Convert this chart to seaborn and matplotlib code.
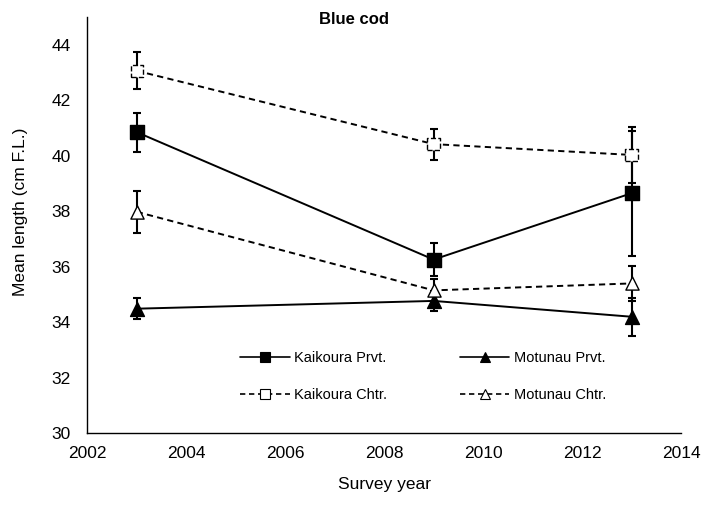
import matplotlib
matplotlib.use("Agg")
import matplotlib.pyplot as plt
from matplotlib.lines import Line2D
import numpy as np
import pandas as pd
import seaborn as sns

# Survey years and mean fork length (cm) with error-bar half widths
years = [2003, 2009, 2013]
kaikoura_prvt = [40.85, 36.26, 38.65]
kaikoura_prvt_err = [0.70, 0.59, 2.25]
motunau_prvt = [34.49, 34.77, 34.20]
motunau_prvt_err = [0.38, 0.35, 0.68]
kaikoura_chtr = [43.06, 40.42, 40.03]
kaikoura_chtr_err = [0.67, 0.56, 1.00]
motunau_chtr = [37.98, 35.15, 35.40]
motunau_chtr_err = [0.75, 0.40, 0.62]

series_names = ["Kaikoura Prvt.", "Motunau Prvt.", "Kaikoura Chtr.", "Motunau Chtr."]
x_ticks = [2002, 2004, 2006, 2008, 2010, 2012, 2014]
y_ticks = [30, 32, 34, 36, 38, 40, 42, 44]

sns.set_theme(style="white")
plt.rcParams["font.family"] = ["Liberation Sans", "DejaVu Sans"]
plt.rcParams["text.color"] = "black"
plt.rcParams["axes.labelcolor"] = "black"
plt.rcParams["xtick.color"] = "black"
plt.rcParams["ytick.color"] = "black"

df = pd.concat([
    pd.DataFrame({"year": years, "length": v, "err": e, "series": n})
    for n, v, e in zip(series_names,
                       [kaikoura_prvt, motunau_prvt, kaikoura_chtr, motunau_chtr],
                       [kaikoura_prvt_err, motunau_prvt_err, kaikoura_chtr_err, motunau_chtr_err])
], ignore_index=True)

fig = plt.figure(figsize=(7.02, 5.11), dpi=100)
ax = fig.add_axes([87.3 / 702, 1 - 433.3 / 511, (681 - 87.3) / 702, (433.3 - 17) / 511])

dash = (3.2, 2.2)
style = {
    "Kaikoura Prvt.": dict(ls="-", marker="s", face="black", ms=9.5, edge_ls="-"),
    "Motunau Prvt.": dict(ls="-", marker="^", face="black", ms=10, edge_ls="-"),
    "Kaikoura Chtr.": dict(ls="--", marker="s", face="white", ms=9, edge_ls="--"),
    "Motunau Chtr.": dict(ls="--", marker="^", face="white", ms=9.5, edge_ls="-"),
}

# connecting lines
for name in series_names:
    st = style[name]
    sub = df[df["series"] == name]
    line_kw = dict(color="black", linewidth=1.4, zorder=2)
    if st["ls"] == "--":
        line_kw["dashes"] = dash
    sns.lineplot(data=sub, x="year", y="length", ax=ax, legend=False, **line_kw)

# error bars
for name in series_names:
    sub = df[df["series"] == name]
    ax.errorbar(sub["year"], sub["length"], yerr=sub["err"], fmt="none",
                ecolor="black", elinewidth=1.5, capsize=3, capthick=1.5, zorder=3)

# markers
for name in series_names:
    st = style[name]
    sub = df[df["series"] == name]
    sns.scatterplot(data=sub, x="year", y="length", ax=ax, marker=st["marker"],
                    s=st["ms"] ** 2, color=st["face"], edgecolor="black",
                    linewidth=1.0, linestyle=st["edge_ls"], zorder=4, legend=False)

ax.set_xlim(2002, 2014)
ax.set_ylim(30, 45)
ax.set_xticks(x_ticks)
ax.set_yticks(y_ticks)
ax.set_xlabel("")
ax.set_ylabel("")
for side in ("top", "right"):
    ax.spines[side].set_visible(False)
for side in ("left", "bottom"):
    ax.spines[side].set_color("black")
    ax.spines[side].set_linewidth(1.0)
ax.tick_params(axis="both", which="major", direction="out", length=5, width=1.0,
               color="black", labelsize=12.5, labelcolor="black")
ax.tick_params(axis="y", pad=7)
ax.tick_params(axis="x", pad=4)
ax.grid(False)

# legend with small markers on short line segments
handles = []
for name in ["Kaikoura Prvt.", "Kaikoura Chtr.", "Motunau Prvt.", "Motunau Chtr."]:
    st = style[name]
    h = Line2D([0], [0], color="black", linewidth=1.2,
               linestyle="-" if st["ls"] == "-" else (0, dash),
               marker=st["marker"], markersize=6.5, markerfacecolor=st["face"],
               markeredgecolor="black", markeredgewidth=0.8)
    handles.append(h)
labels = ["Kaikoura Prvt.", "Kaikoura Chtr.", "Motunau Prvt.", "Motunau Chtr."]
fig.legend(handles, labels, ncol=2, frameon=False, fontsize=10.5,
           loc="upper left", bbox_to_anchor=(240 / 702, 1 - 351 / 511),
           handlelength=3.4, handletextpad=0.3, columnspacing=5.0,
           labelspacing=1.55, borderaxespad=0, borderpad=0)

fig.text(354 / 702, 1 - 20 / 511, "Blue cod", ha="center", va="center",
         fontsize=12, fontweight="bold")
fig.text(21 / 702, 1 - 212 / 511, "Mean length (cm F.L.)", ha="center", va="center",
         rotation=90, fontsize=12.5)
fig.text(384 / 702, 1 - 484 / 511, "Survey year", ha="center", va="center",
         fontsize=12.5)

fig.savefig("out.png", dpi=100, facecolor="white")
